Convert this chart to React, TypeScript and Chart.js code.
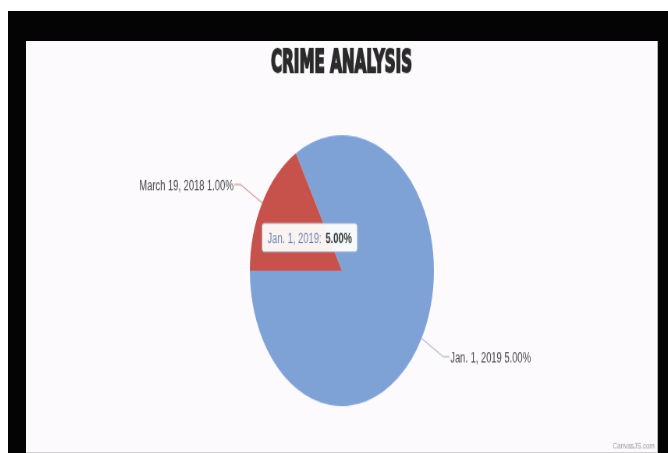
import React, { useEffect, useRef } from "react";
import { Chart, registerables } from "chart.js";

Chart.register(...registerables);

// ---- data ----
const chartTitle = "CRIME ANALYSIS";
const labels = ["Jan. 1, 2019", "March 19, 2018"];
const values = [5, 1];
const sliceColors = ["#7FA2D6", "#C7514B"];
const labelLineColors = ["#a3adc2", "#c38983"];
const tooltipIndex = 0;
const creditText = "CanvasJS.com";

// ---- layout (natural canvas size vs. displayed size: the reference is stretched) ----
const NAT_W = 809;
const NAT_H = 358;
const DISP_W = 631;
const DISP_H = 411;
const LABEL_FONT = "12px 'Liberation Sans', Arial, sans-serif";

const fmt = (v: number) => v.toFixed(2) + "%";

const titlePlugin = {
  id: "squeezedTitle",
  afterDraw(chart: any) {
    const ctx = chart.ctx;
    ctx.save();
    ctx.font = "bold 26px 'DejaVu Sans', sans-serif";
    const w = ctx.measureText(chartTitle).width;
    const target = 181;
    ctx.translate(chart.width / 2, 27);
    ctx.scale(target / w, 1);
    ctx.fillStyle = "#2b2b2b";
    ctx.strokeStyle = "#2b2b2b";
    ctx.lineWidth = 1.8;
    ctx.lineJoin = "miter";
    ctx.textAlign = "center";
    ctx.textBaseline = "alphabetic";
    ctx.fillText(chartTitle, 0, 0);
    ctx.strokeText(chartTitle, 0, 0);
    ctx.restore();

    ctx.save();
    ctx.font = "8px 'Liberation Sans', Arial, sans-serif";
    ctx.fillStyle = "#9a9a9a";
    ctx.textAlign = "right";
    ctx.textBaseline = "alphabetic";
    ctx.fillText(creditText, chart.width - 3, chart.height - 3);
    ctx.restore();
  },
};

const indexLabelPlugin = {
  id: "indexLabels",
  afterDatasetsDraw(chart: any) {
    const ctx = chart.ctx;
    const meta = chart.getDatasetMeta(0);
    meta.data.forEach((arc: any, i: number) => {
      const { x, y, startAngle, endAngle, outerRadius } = arc.getProps(
        ["x", "y", "startAngle", "endAngle", "outerRadius"],
        true
      );
      const mid = (startAngle + endAngle) / 2;
      const c = Math.cos(mid);
      const s = Math.sin(mid);
      const ex = x + c * outerRadius;
      const ey = y + s * outerRadius;
      const r2 = outerRadius + 32;
      const bx = x + c * r2;
      const by = y + s * r2;
      const side = c >= 0 ? 1 : -1;
      const hx = bx + side * 8;
      ctx.save();
      ctx.strokeStyle = labelLineColors[i];
      ctx.lineWidth = 1;
      ctx.beginPath();
      ctx.moveTo(ex, ey);
      ctx.lineTo(bx, by);
      ctx.lineTo(hx, by);
      ctx.stroke();
      ctx.font = LABEL_FONT;
      ctx.fillStyle = "#474747";
      ctx.textAlign = side > 0 ? "left" : "right";
      ctx.textBaseline = "middle";
      ctx.fillText(labels[i] + " " + fmt(values[i]), hx + side * 1, by + 1.5);
      ctx.restore();
    });
  },
};

const fakeTooltipPlugin = {
  id: "fakeTooltip",
  afterDraw(chart: any) {
    const ctx = chart.ctx;
    const arc = chart.getDatasetMeta(0).data[tooltipIndex];
    if (!arc) return;
    const { x, y } = arc.getProps(["x", "y"], true);
    const name = labels[tooltipIndex] + ":";
    const val = fmt(values[tooltipIndex]);
    ctx.save();
    ctx.font = LABEL_FONT;
    const w1 = ctx.measureText(name).width;
    ctx.font = "bold 12px 'Liberation Sans', Arial, sans-serif";
    const w2 = ctx.measureText(val).width;
    const pad = 7;
    const gap = 5;
    const boxW = pad * 2 + w1 + gap + w2;
    const boxH = 25;
    const left = x - 102.5;
    const top = y - 41.3;
    ctx.fillStyle = "rgba(255,255,255,0.93)";
    ctx.strokeStyle = "rgba(150,165,195,0.7)";
    ctx.lineWidth = 1;
    ctx.beginPath();
    (ctx as any).roundRect(left, top, boxW, boxH, 3);
    ctx.fill();
    ctx.stroke();
    ctx.textBaseline = "middle";
    ctx.textAlign = "left";
    ctx.font = LABEL_FONT;
    ctx.fillStyle = "#6f86b3";
    ctx.fillText(name, left + pad, top + boxH / 2 + 1);
    ctx.font = "bold 12px 'Liberation Sans', Arial, sans-serif";
    ctx.fillStyle = "#3a3a3a";
    ctx.fillText(val, left + pad + w1 + gap, top + boxH / 2 + 1);
    ctx.restore();
  },
};

export default function App() {
  const canvasRef = useRef<HTMLCanvasElement | null>(null);

  useEffect(() => {
    if (!canvasRef.current) return;
    const chart = new Chart(canvasRef.current, {
      type: "pie",
      data: {
        labels,
        datasets: [
          {
            data: values,
            backgroundColor: sliceColors,
            borderWidth: 0,
            hoverOffset: 0,
          },
        ],
      },
      options: {
        responsive: false,
        animation: false,
        devicePixelRatio: 1,
        events: [],
        rotation: -30,
        layout: { padding: { top: 82, bottom: 40, left: 101, right: 100 } },
        plugins: {
          legend: { display: false },
          title: { display: false },
          tooltip: { enabled: false },
        },
      },
      plugins: [indexLabelPlugin, titlePlugin, fakeTooltipPlugin],
    } as any);
    return () => chart.destroy();
  }, []);

  return (
    <div
      style={{
        position: "absolute",
        left: 8,
        top: 11,
        width: 660,
        height: 442,
        background: "#040404",
        overflow: "hidden",
      }}
    >
      <div
        style={{
          position: "absolute",
          left: 18,
          top: 30,
          width: DISP_W,
          height: DISP_H,
          background: "#fdfafd",
          borderRight: "1px solid #b8b8b8",
          borderBottom: "1px solid #cfcfcf",
        }}
      >
        <canvas
          ref={canvasRef}
          width={NAT_W}
          height={NAT_H}
          style={{ width: DISP_W + "px", height: DISP_H + "px", display: "block" }}
        />
      </div>
    </div>
  );
}
